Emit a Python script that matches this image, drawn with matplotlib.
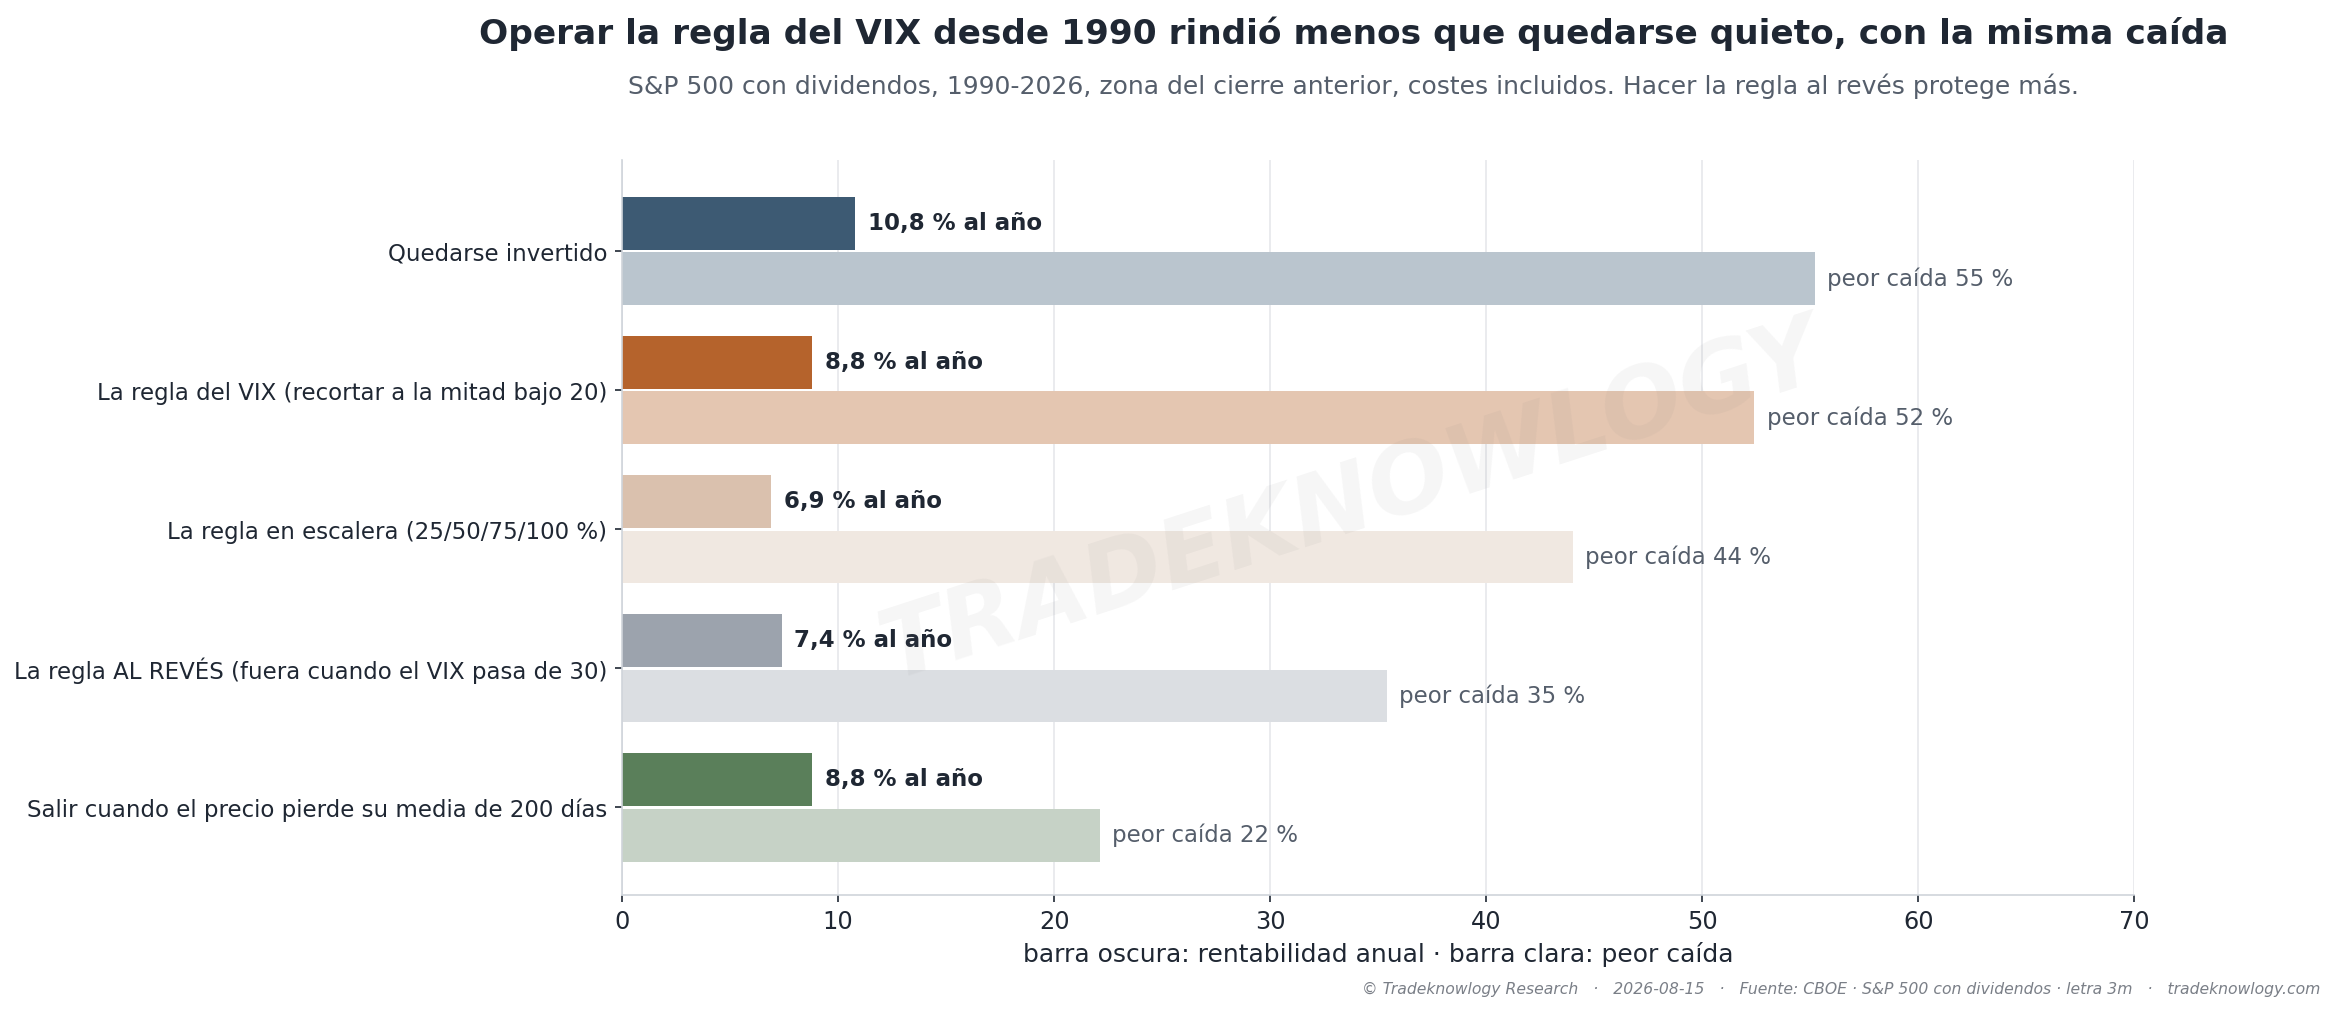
import matplotlib.pyplot as plt
import numpy as np

# Data
strategies = [
    "Quedarse invertido",
    "La regla del VIX (recortar a la mitad bajo 20)",
    "La regla en escalera (25/50/75/100 %)",
    "La regla AL REVÉS (fuera cuando el VIX pasa de 30)",
    "Salir cuando el precio pierde su media de 200 días",
]
annual_return = [10.8, 8.8, 6.9, 7.4, 8.8]
worst_drawdown = [55.2, 52.4, 44.0, 35.4, 22.1]

dark_colors = ["#3d5a73", "#b5632c", "#dac1ae", "#9ca3ad", "#5a7f5a"]
light_colors = ["#bac5ce", "#e4c6b1", "#f0e8e1", "#dbdee2", "#c6d2c6"]

TEXT = "#1f2733"
MUTED = "#555e6b"

fig = plt.figure(figsize=(15.56, 6.75), dpi=150)
ax = fig.add_axes([0.2665, 0.1156, 0.648, 0.7254])

y = np.arange(len(strategies))
h = 0.38
ax.barh(y - 0.2, annual_return, height=h, color=dark_colors, zorder=2)
ax.barh(y + 0.2, worst_drawdown, height=h, color=light_colors, zorder=2)

for yi, v in zip(y, annual_return):
    ax.annotate(f"{v:.1f} % al año".replace(".", ","), (v, yi - 0.2),
                xytext=(6, 0), textcoords="offset points", va="center", ha="left",
                fontsize=11, fontweight="bold", color=TEXT)
for yi, v in zip(y, worst_drawdown):
    ax.annotate(f"peor caída {v:.0f} %", (v, yi + 0.2),
                xytext=(6, 0), textcoords="offset points", va="center", ha="left",
                fontsize=11, color=MUTED)

ax.set_yticks(y)
ax.set_yticklabels(strategies, fontsize=11, color=TEXT)
ax.set_ylim(4.63, -0.65)
ax.set_xlim(0, 70)
ax.set_xticks(np.arange(0, 71, 10))
ax.tick_params(axis="x", labelsize=11.5, colors=TEXT)
ax.tick_params(axis="y", colors=TEXT)
ax.set_xlabel("barra oscura: rentabilidad anual · barra clara: peor caída", fontsize=12, color=TEXT)

ax.grid(axis="x", color="#e6e8eb", linewidth=0.8, zorder=0)
ax.set_axisbelow(True)
for s in ["top", "right"]:
    ax.spines[s].set_visible(False)
for s in ["left", "bottom"]:
    ax.spines[s].set_color("#cfd4da")

fig.text(0.58, 0.967, "Operar la regla del VIX desde 1990 rindió menos que quedarse quieto, con la misma caída",
         ha="center", va="center", fontsize=16.5, fontweight="bold", color=TEXT)
fig.text(0.58, 0.915, "S&P 500 con dividendos, 1990-2026, zona del cierre anterior, costes incluidos. Hacer la regla al revés protege más.",
         ha="center", va="center", fontsize=12, color=MUTED)

fig.text(0.579, 0.503, "TRADEKNOWLOGY", ha="center", va="center", fontsize=46,
         fontweight="bold", style="italic", color="#808080", alpha=0.07, rotation=18, zorder=10)

fig.text(0.994, 0.023,
         "© Tradeknowlogy Research   ·   2026-08-15   ·   Fuente: CBOE · S&P 500 con dividendos · letra 3m   ·   tradeknowlogy.com",
         ha="right", va="center", fontsize=7.5, style="italic", color="#7a7f87")

fig.savefig("out.png", dpi=150)
